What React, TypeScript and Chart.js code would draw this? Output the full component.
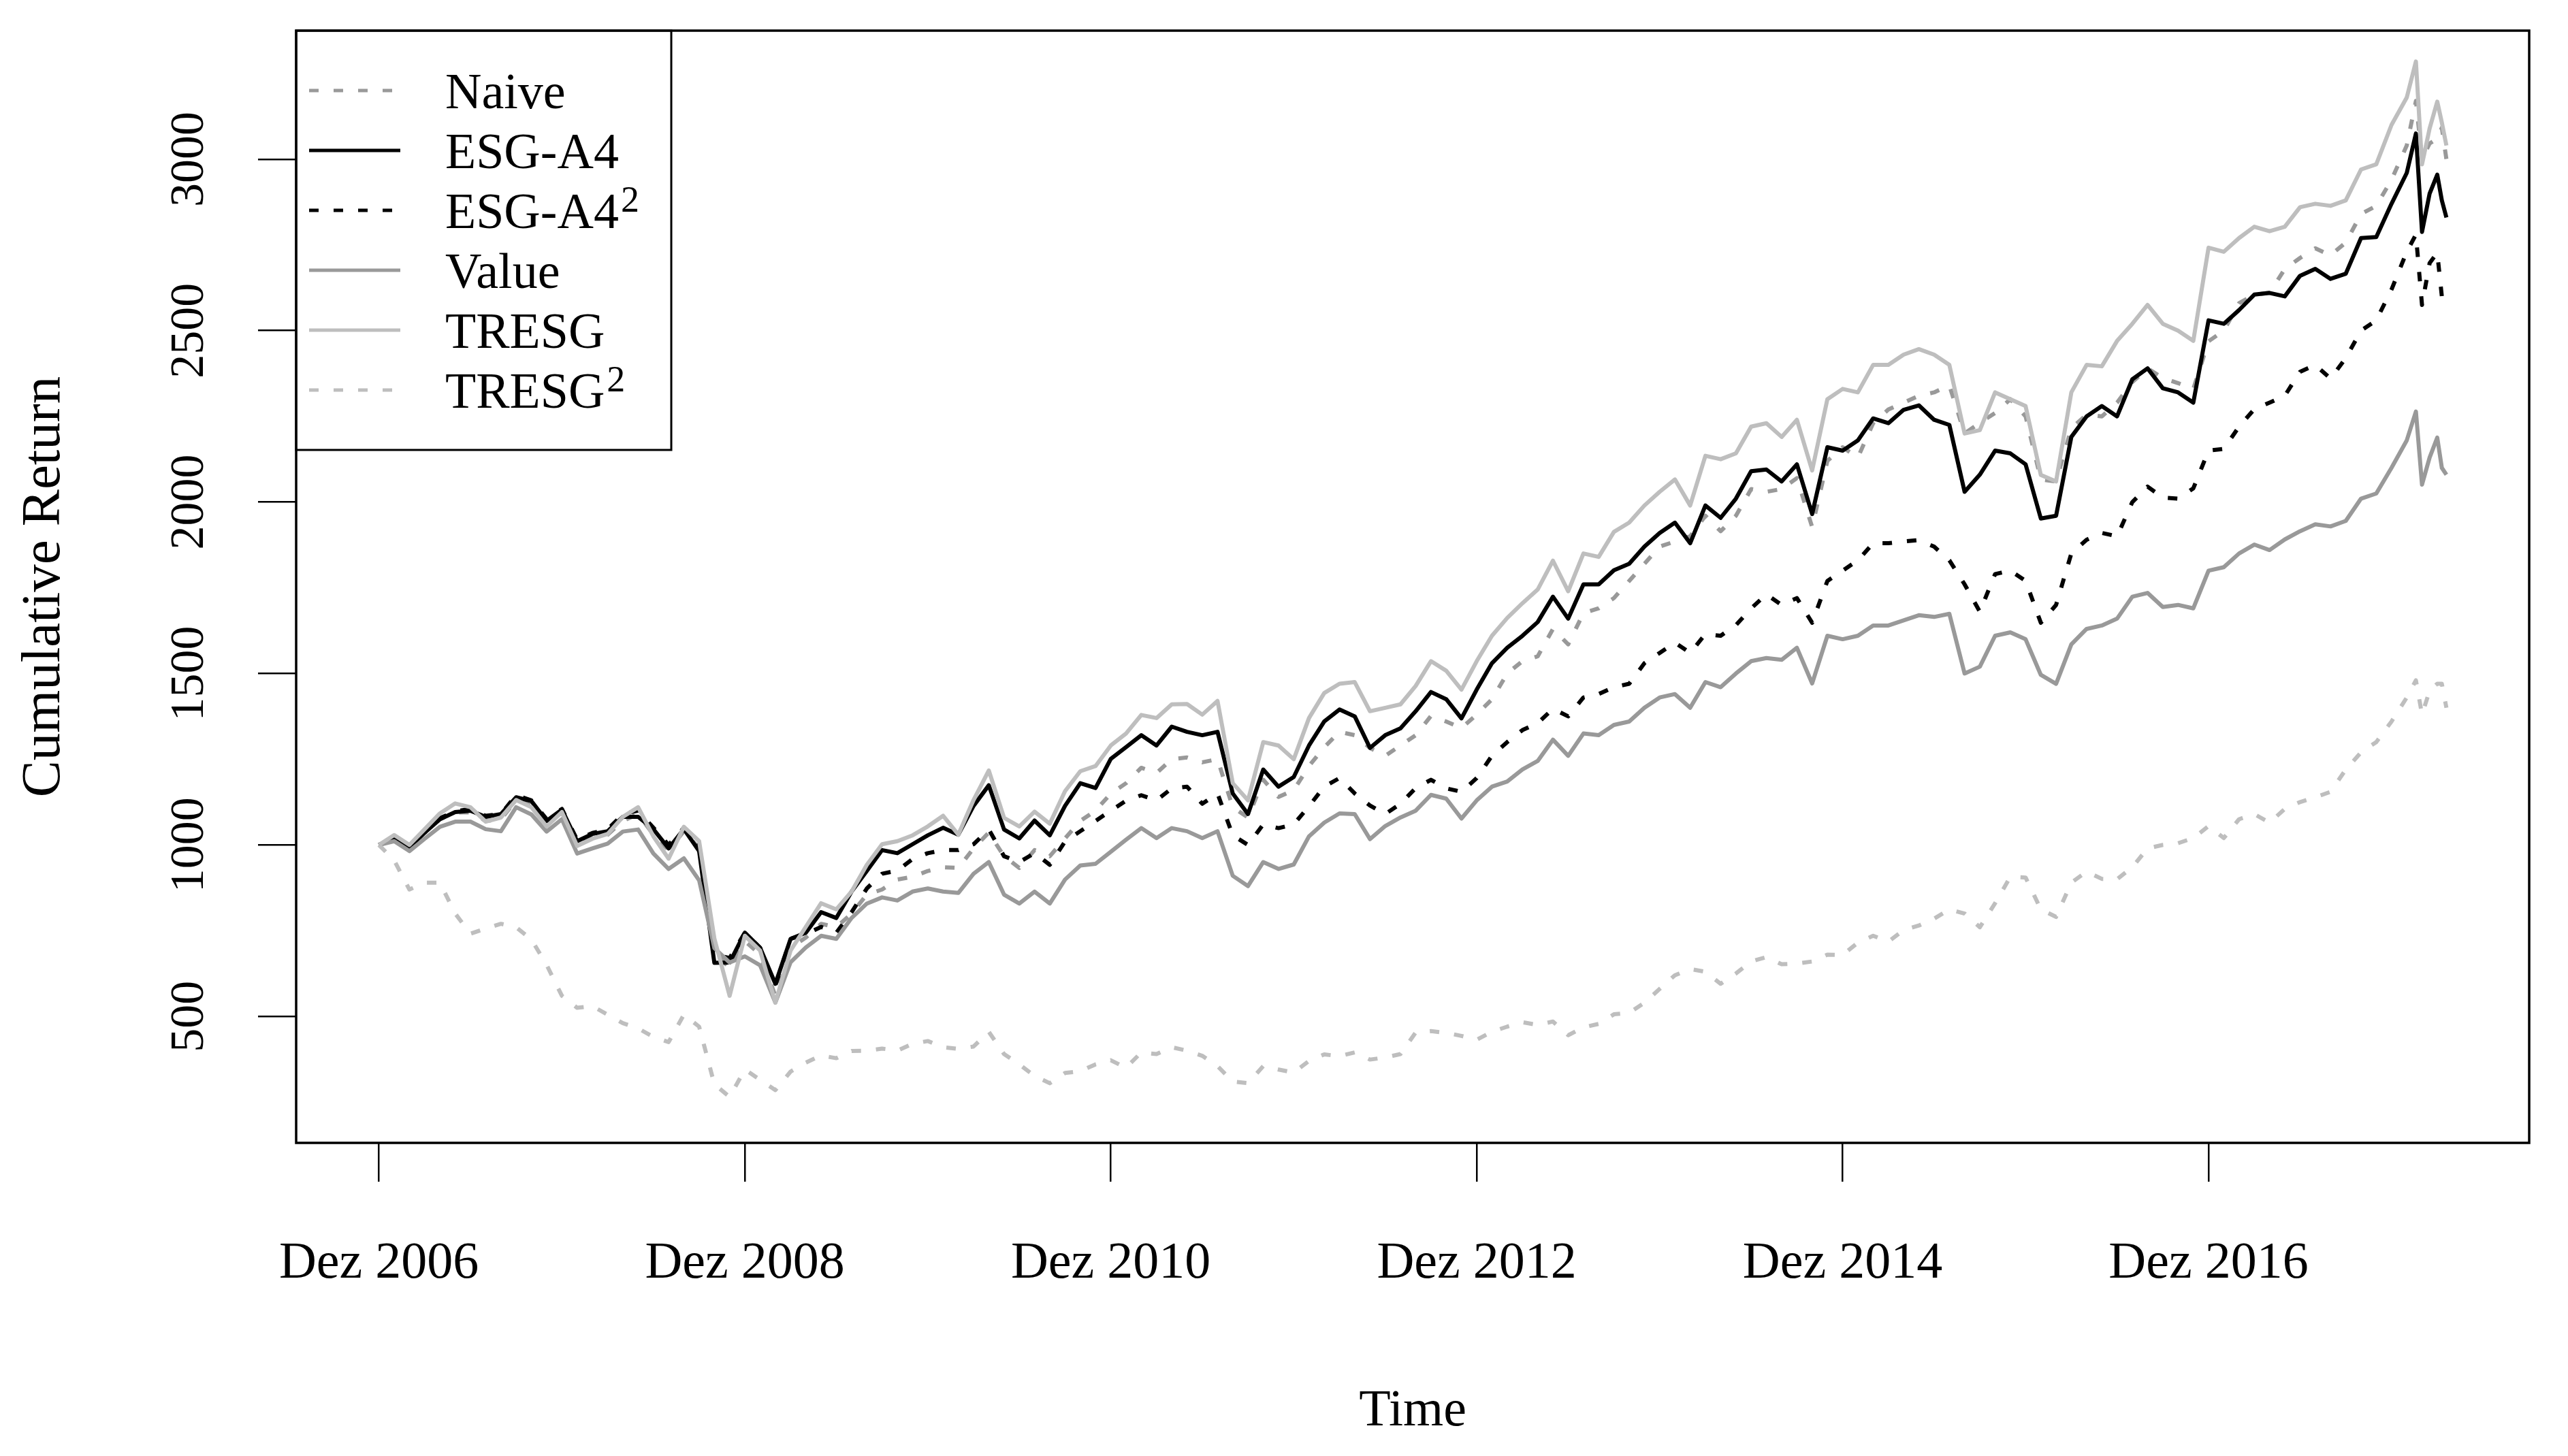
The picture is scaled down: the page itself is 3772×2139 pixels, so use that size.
import React, { useEffect, useRef } from "react";
import { Chart, registerables } from "chart.js";

Chart.register(...registerables);

// Months elapsed since December 2006
const monthsSinceDec2006 = [
  0, 1, 2, 3, 4, 5, 6, 7, 8, 9,
  10, 11, 12, 13, 14, 15, 16, 17, 18, 19,
  20, 21, 22, 23, 24, 25, 26, 27, 28, 29,
  30, 31, 32, 33, 34, 35, 36, 37, 38, 39,
  40, 41, 42, 43, 44, 45, 46, 47, 48, 49,
  50, 51, 52, 53, 54, 55, 56, 57, 58, 59,
  60, 61, 62, 63, 64, 65, 66, 67, 68, 69,
  70, 71, 72, 73, 74, 75, 76, 77, 78, 79,
  80, 81, 82, 83, 84, 85, 86, 87, 88, 89,
  90, 91, 92, 93, 94, 95, 96, 97, 98, 99,
  100, 101, 102, 103, 104, 105, 106, 107, 108, 109,
  110, 111, 112, 113, 114, 115, 116, 117, 118, 119,
  120, 121, 122, 123, 124, 125, 126, 127, 128, 129,
  130, 131, 132, 133, 133.6, 134, 134.5, 135, 135.3, 135.6,
];

const xTickMonths = [0, 24, 48, 72, 96, 120];
const xTickLabels = ["Dez 2006", "Dez 2008", "Dez 2010", "Dez 2012", "Dez 2014", "Dez 2016"];
const yTickValues = [500, 1000, 1500, 2000, 2500, 3000];

const seriesNames = ["Naive", "ESG-A4", "ESG-A4²", "Value", "TRESG", "TRESG²"];

const naive = [
  1000, 1020, 990, 1035, 1075, 1095, 1095, 1070, 1075, 1130,
  1115, 1060, 1095, 1000, 1020, 1030, 1070, 1090, 1030, 985,
  1040, 990, 690, 640, 720, 680, 560, 700, 730, 770,
  760, 800, 855, 870, 899, 907, 924, 935, 933, 990,
  1036, 967, 933, 985, 967, 1019, 1070, 1100, 1150, 1180,
  1225, 1210, 1250, 1255, 1241, 1250, 1110, 1080, 1190, 1140,
  1160, 1230, 1285, 1330, 1320, 1283, 1260, 1290, 1320, 1376,
  1360, 1341, 1380, 1425, 1500, 1536, 1550, 1630, 1585, 1676,
  1690, 1720, 1770, 1820, 1870, 1885, 1900, 1960, 1915, 1960,
  2038, 2030, 2038, 2070, 1927, 2120, 2160, 2130, 2230, 2270,
  2290, 2310, 2320, 2340, 2200, 2231, 2260, 2300, 2250, 2066,
  2060, 2215, 2255, 2250, 2290, 2350, 2390, 2362, 2347, 2330,
  2469, 2500, 2580, 2605, 2610, 2680, 2712, 2740, 2720, 2757,
  2840, 2864, 2940, 3040, 3170, 3001, 3046, 3060, 3092, 3000,
];

const esgA4 = [
  1000, 1020, 993, 1036, 1075, 1096, 1100, 1082, 1090, 1139,
  1128, 1070, 1103, 1011, 1032, 1040, 1082, 1082, 1046, 990,
  1046, 982, 656, 657, 744, 700, 595, 726, 744, 804,
  787, 864, 924, 985, 976, 1002, 1028, 1050, 1030, 1114,
  1174, 1045, 1019, 1071, 1028, 1114, 1180, 1166, 1251, 1285,
  1320, 1290, 1345, 1330, 1320, 1330, 1150, 1090, 1220, 1170,
  1198, 1290, 1360, 1395, 1375, 1283, 1320, 1340, 1390, 1446,
  1425, 1369, 1453, 1530, 1575, 1610, 1650, 1724, 1660, 1760,
  1760, 1801, 1820, 1870, 1910, 1940, 1880, 1990, 1954, 2010,
  2090, 2095, 2060, 2110, 1965, 2160, 2150, 2180, 2244, 2230,
  2269, 2282, 2240, 2225, 2030, 2080, 2150, 2142, 2110, 1952,
  1960, 2190, 2250, 2280, 2250, 2358, 2390, 2332, 2320, 2290,
  2530, 2520, 2560, 2605, 2610, 2600, 2660, 2680, 2651, 2666,
  2770, 2773, 2870, 2960, 3075, 2788, 2900, 2955, 2880, 2830,
];

const esgA4Sq = [
  1000, 1020, 995, 1038, 1078, 1098, 1105, 1085, 1090, 1145,
  1130, 1075, 1105, 1015, 1035, 1045, 1090, 1100, 1050, 1000,
  1050, 990, 680, 670, 744, 700, 590, 726, 740, 761,
  744, 804, 873, 916, 925, 959, 976, 985, 985, 1002,
  1045, 967, 950, 976, 942, 1010, 1040, 1070, 1100, 1129,
  1145, 1130, 1165, 1170, 1120, 1150, 1028, 1000, 1060, 1049,
  1060, 1113, 1170, 1195, 1150, 1115, 1090, 1120, 1166, 1190,
  1165, 1155, 1195, 1260, 1300, 1335, 1355, 1397, 1375, 1430,
  1440, 1460, 1470, 1530, 1560, 1590, 1560, 1615, 1610, 1641,
  1690, 1731, 1700, 1720, 1648, 1770, 1800, 1830, 1880, 1880,
  1885, 1889, 1870, 1830, 1760, 1680, 1790, 1800, 1770, 1648,
  1700, 1850, 1890, 1910, 1900, 2000, 2045, 2013, 2010, 2040,
  2150, 2155, 2220, 2271, 2290, 2310, 2380, 2400, 2360, 2420,
  2500, 2530, 2620, 2730, 2780, 2575, 2697, 2727, 2600, 2620,
];

const valueSeries = [
  1000, 1011, 982, 1018, 1053, 1068, 1068, 1046, 1040, 1110,
  1089, 1039, 1075, 975, 990, 1004, 1039, 1045, 975, 930,
  961, 897, 699, 657, 675, 649, 540, 658, 701, 735,
  726, 787, 829, 847, 838, 864, 873, 864, 860, 916,
  950, 855, 829, 864, 829, 899, 940, 945, 980, 1015,
  1049, 1020, 1049, 1040, 1020, 1040, 910, 880, 950, 930,
  943, 1025, 1065, 1092, 1090, 1017, 1055, 1080, 1100, 1146,
  1135, 1077, 1130, 1170, 1185, 1220, 1245, 1307, 1260, 1325,
  1320, 1350, 1360, 1400, 1430, 1440, 1400, 1475, 1460, 1500,
  1536, 1545, 1540, 1575, 1471, 1610, 1600, 1610, 1640, 1640,
  1655, 1670, 1665, 1674, 1500, 1520, 1610, 1620, 1600, 1496,
  1470, 1585, 1630, 1640, 1660, 1724, 1735, 1694, 1700, 1690,
  1800, 1810, 1850, 1876, 1860, 1891, 1915, 1935, 1929, 1945,
  2010, 2025, 2100, 2180, 2264, 2051, 2130, 2188, 2100, 2080,
];

const tresg = [
  1000, 1029, 1000, 1046, 1092, 1121, 1110, 1068, 1080, 1131,
  1110, 1054, 1096, 997, 1018, 1032, 1082, 1110, 1025, 960,
  1053, 1011, 727, 560, 735, 692, 540, 692, 761, 830,
  812, 864, 942, 1002, 1011, 1028, 1054, 1085, 1030, 1131,
  1217, 1079, 1054, 1097, 1062, 1157, 1215, 1230, 1290, 1325,
  1379, 1370, 1410, 1411, 1380, 1420, 1180, 1130, 1300, 1290,
  1250, 1370, 1443, 1470, 1475, 1390, 1400, 1410, 1464, 1536,
  1508, 1453, 1536, 1610, 1662, 1705, 1745, 1829, 1740, 1850,
  1840, 1913, 1940, 1990, 2030, 2066, 1990, 2135, 2125, 2142,
  2220, 2230, 2190, 2240, 2092, 2300, 2330, 2320, 2400, 2400,
  2430, 2446, 2430, 2400, 2200, 2210, 2320, 2300, 2280, 2079,
  2060, 2320, 2400, 2396, 2470, 2520, 2575, 2520, 2500, 2470,
  2742, 2730, 2770, 2803, 2790, 2803, 2860, 2870, 2864, 2880,
  2970, 2985, 3100, 3180, 3285, 2985, 3090, 3168, 3107, 3040,
];

const tresgSq = [
  1000, 955, 870, 890, 890, 800, 741, 756, 770, 760,
  724, 650, 560, 525, 530, 505, 480, 465, 440, 425,
  505, 470, 302, 265, 345, 315, 285, 339, 365, 386,
  378, 399, 400, 406, 400, 420, 428, 410, 405, 412,
  455, 390, 360, 326, 305, 335, 340, 360, 372, 350,
  395, 390, 410, 400, 385, 355, 310, 305, 355, 345,
  336, 370, 389, 384, 395, 374, 380, 390, 453, 457,
  452, 443, 432, 455, 470, 483, 475, 485, 445, 468,
  478, 506, 510, 540, 580, 620, 638, 630, 595, 625,
  660, 673, 652, 654, 660, 680, 679, 715, 735, 718,
  752, 765, 785, 812, 800, 760, 830, 907, 905, 812,
  790, 890, 922, 901, 900, 935, 990, 1000, 1005, 1020,
  1055, 1020, 1075, 1090, 1065, 1105, 1125, 1139, 1155, 1220,
  1270, 1300, 1360, 1430, 1480, 1380, 1450, 1470, 1470, 1400,
];

const seriesValues = [naive, esgA4, esgA4Sq, valueSeries, tresg, tresgSq];
const seriesColors = ["#999999", "#000000", "#000000", "#999999", "#bebebe", "#bebebe"];
const seriesDashes: number[][] = [[14, 22], [], [14, 22], [], [], [14, 22]];

const FONT = '"Liberation Serif", "Times New Roman", serif';
const W = 3772;
const H = 2139;

const frameAndLegend = {
  id: "frameAndLegend",
  afterDraw(chart: any) {
    const ctx = chart.ctx as CanvasRenderingContext2D;
    const a = chart.chartArea;
    ctx.save();
    // legend box
    const lx0 = a.left;
    const ly0 = a.top;
    const lx1 = 986;
    const ly1 = 661;
    ctx.fillStyle = "#ffffff";
    ctx.fillRect(lx0, ly0, lx1 - lx0, ly1 - ly0);
    ctx.setLineDash([]);
    ctx.lineWidth = 3;
    ctx.strokeStyle = "#000";
    ctx.strokeRect(lx0, ly0, lx1 - lx0, ly1 - ly0);
    chart.data.datasets.forEach((ds: any, i: number) => {
      const y = 133 + i * 88;
      ctx.beginPath();
      ctx.setLineDash(ds.borderDash || []);
      ctx.lineCap = "butt";
      ctx.strokeStyle = ds.borderColor;
      ctx.lineWidth = 5;
      ctx.moveTo(454, y);
      ctx.lineTo(588, y);
      ctx.stroke();
      ctx.setLineDash([]);
      ctx.fillStyle = "#000";
      ctx.textBaseline = "alphabetic";
      ctx.textAlign = "left";
      const label: string = ds.label;
      const hasSup = label.endsWith("²");
      const base = hasSup ? label.slice(0, -1) : label;
      ctx.font = `74px ${FONT}`;
      ctx.fillText(base, 654, y + 26);
      if (hasSup) {
        const w = ctx.measureText(base).width;
        ctx.font = `54px ${FONT}`;
        ctx.fillText("2", 654 + w + 3, y + 2);
      }
    });
    // plot frame
    ctx.setLineDash([]);
    ctx.lineWidth = 3.5;
    ctx.strokeStyle = "#000";
    ctx.strokeRect(a.left, a.top, a.right - a.left, a.bottom - a.top);
    ctx.restore();
  },
};

export default function App() {
  const canvasRef = useRef<HTMLCanvasElement | null>(null);

  useEffect(() => {
    const canvas = canvasRef.current;
    if (!canvas) return;
    const datasets = seriesNames.map((name, i) => ({
      label: name,
      data: monthsSinceDec2006.map((m, k) => ({ x: m, y: seriesValues[i][k] })),
      borderColor: seriesColors[i],
      backgroundColor: seriesColors[i],
      borderWidth: 6,
      borderDash: seriesDashes[i],
      borderCapStyle: "butt" as const,
      borderJoinStyle: "round" as const,
      pointRadius: 0,
      tension: 0,
      fill: false,
      order: seriesNames.length - i,
    }));

    const chart = new Chart(canvas, {
      type: "line",
      data: { datasets },
      options: {
        responsive: false,
        animation: false,
        devicePixelRatio: 1,
        layout: { padding: { left: 0, top: 45, right: W - 3715, bottom: 0 } },
        plugins: { legend: { display: false }, tooltip: { enabled: false } },
        scales: {
          x: {
            type: "linear",
            min: -5.43,
            max: 141.03,
            afterBuildTicks: (s: any) => {
              s.ticks = xTickMonths.map((v) => ({ value: v }));
            },
            afterFit: (s: any) => {
              s.height = H - 1679;
              s.paddingLeft = 0;
              s.paddingRight = 0;
            },
            ticks: {
              autoSkip: false,
              maxRotation: 0,
              minRotation: 0,
              padding: 75,
              color: "#000",
              font: { family: FONT, size: 76 },
              callback: (v: any) => {
                const idx = xTickMonths.indexOf(Number(v));
                return idx >= 0 ? xTickLabels[idx] : "";
              },
            },
            grid: {
              display: true,
              drawOnChartArea: false,
              drawTicks: true,
              tickLength: 57,
              color: "#000",
              lineWidth: 2.5,
            },
            border: { display: false },
            title: {
              display: true,
              text: "Time",
              color: "#000",
              font: { family: FONT, size: 76 },
              padding: { top: 0, bottom: 19 },
            },
          },
          y: {
            type: "linear",
            min: 131,
            max: 3375,
            afterBuildTicks: (s: any) => {
              s.ticks = yTickValues.map((v) => ({ value: v }));
            },
            afterFit: (s: any) => {
              s.width = 435;
              s.paddingTop = 0;
              s.paddingBottom = 0;
            },
            ticks: {
              autoSkip: false,
              minRotation: 90,
              maxRotation: 90,
              crossAlign: "center",
              padding: 29,
              color: "#000",
              font: { family: FONT, size: 70 },
              callback: (v: any) => String(v),
            },
            grid: {
              display: true,
              drawOnChartArea: false,
              drawTicks: true,
              tickLength: 56,
              color: "#000",
              lineWidth: 2.5,
            },
            border: { display: false },
            title: {
              display: true,
              text: "Cumulative Return",
              color: "#000",
              font: { family: FONT, size: 81 },
              padding: { top: 17, bottom: 0 },
            },
          },
        },
      },
      plugins: [frameAndLegend],
    } as any);

    return () => {
      chart.destroy();
    };
  }, []);

  return (
    <div style={{ position: "fixed", left: 0, top: 0, width: W, height: H, background: "#fff" }}>
      <canvas ref={canvasRef} width={W} height={H} style={{ width: W, height: H, display: "block" }} />
    </div>
  );
}
